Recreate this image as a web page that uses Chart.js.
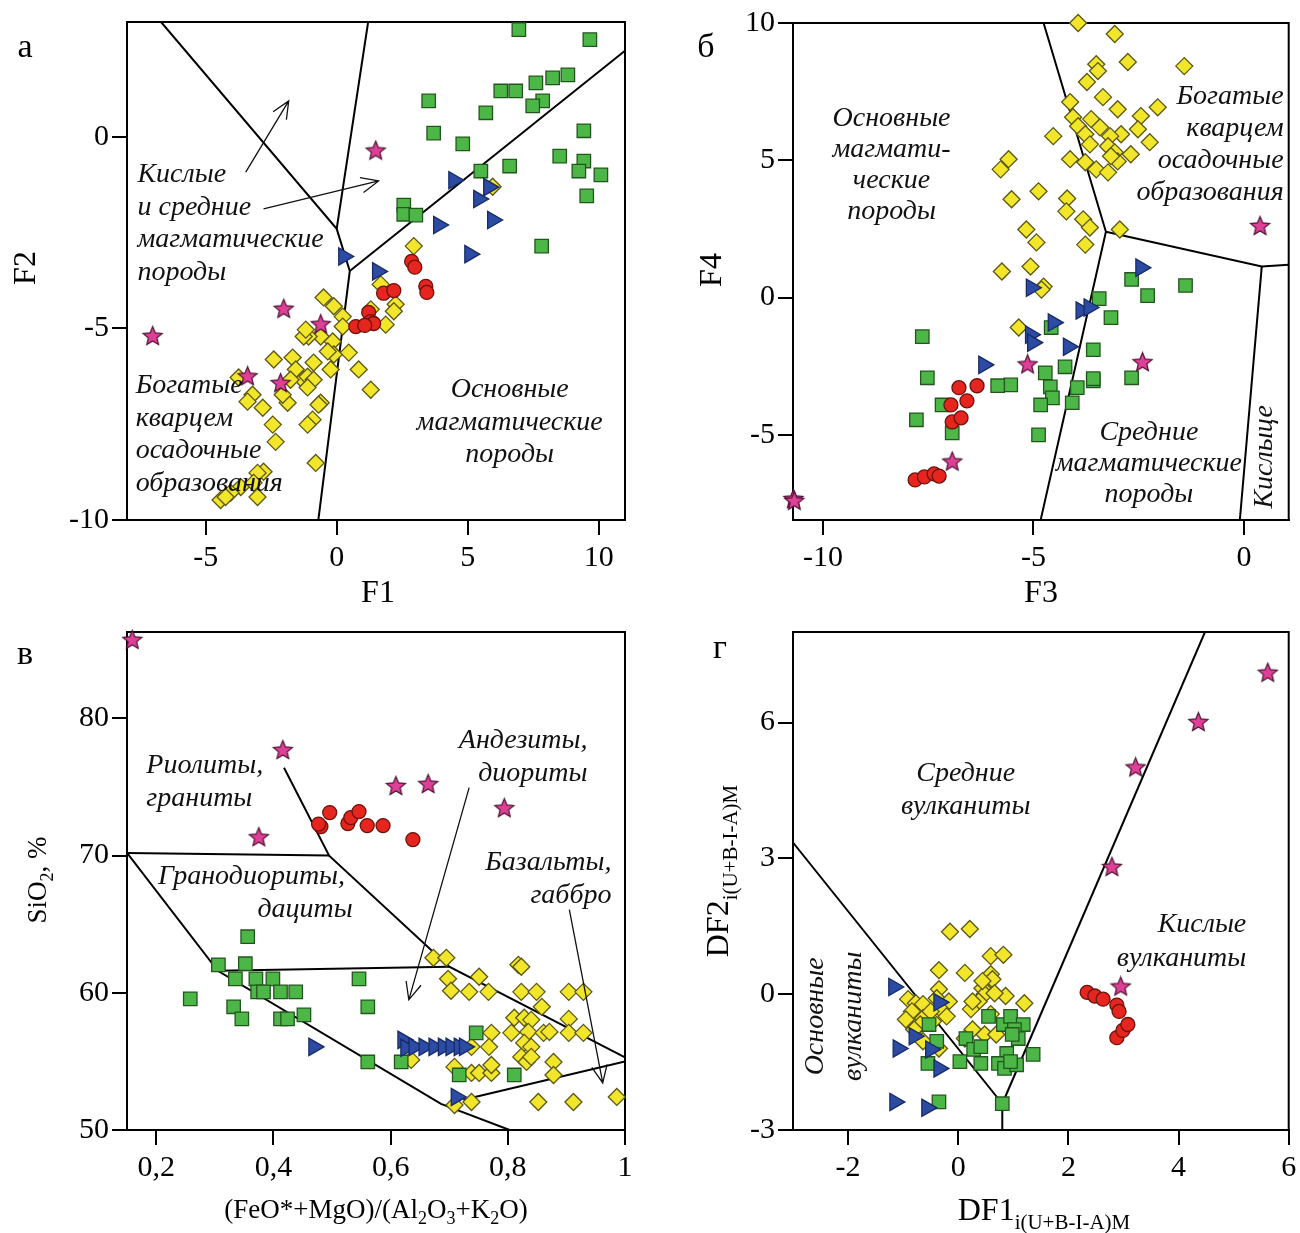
<!DOCTYPE html>
<html>
<head>
<meta charset="utf-8">
<script src="https://cdn.jsdelivr.net/npm/chart.js@4.4.0/dist/chart.umd.min.js"></script>
<style>
  body { margin: 0; background: #fff; }
  #wrap { position: relative; width: 1300px; height: 1233px; }
  #wrap canvas { position: absolute; left: 0; top: 0; }
</style>
</head>
<body>
<div id="wrap">
  <canvas id="pa" width="1300" height="1233"></canvas>
  <canvas id="pb" width="1300" height="1233"></canvas>
  <canvas id="pc" width="1300" height="1233"></canvas>
  <canvas id="pd" width="1300" height="1233"></canvas>
</div>
<script>
// panel а : F1 - F2
const aXTicks = [-5, 0, 5, 10];
const aYTicks = [-10, -5, 0];
const aYellow = [[2.94,-2.85],[1.68,-3.85],[-0.5,-4.19],[-0.11,-4.42],[0.23,-4.69],[0.23,-4.95],[-0.61,-5.21],[-0.15,-5.34],[-1.07,-5.21],[-1.26,-5.21],[0.46,-5.63],[-0.11,-5.68],[-0.88,-5.89],[-0.23,-6.07],[0.84,-6.07],[1.3,-6.6],[-0.61,-6.94],[-0.92,-7.38],[-1.11,-7.51],[-0.8,-8.51],[1.3,-4.5],[1.87,-4.9],[2.25,-4.37],[2.18,-4.55],[-0.34,-5.6],[-1.18,-5.03],[-2.4,-5.81],[-1.68,-5.76],[-1.56,-6.07],[-1.3,-6.34],[-1.11,-6.26],[-0.88,-6.34],[-1.11,-6.54],[-1.76,-6.34],[-0.69,-6.99],[-3.74,-6.28],[-3.21,-6.73],[-3.4,-6.91],[-2.82,-7.07],[-2.44,-7.51],[-2.33,-7.96],[-1.87,-6.94],[-2.06,-6.73],[-2.79,-8.74],[-3.02,-8.77],[-3.17,-9.03],[-3.02,-9.4],[-3.66,-9.14],[-4.05,-9.29],[-4.43,-9.48],[-4.24,-9.4],[5.95,-1.3]];
const aGreen = [[6.95,2.8],[9.66,2.54],[8.82,1.62],[8.24,1.54],[7.6,1.41],[6.83,1.2],[6.26,1.2],[7.86,0.94],[7.48,0.81],[5.69,0.63],[3.51,0.94],[3.7,0.1],[4.81,-0.18],[9.43,0.16],[8.51,-0.5],[9.43,-0.63],[9.24,-0.89],[10.08,-0.99],[9.54,-1.54],[6.6,-0.76],[5.5,-0.89],[2.56,-1.78],[2.56,-2.02],[3.02,-2.04],[7.82,-2.85]];
const aBlue = [[4.47,-1.13],[5.8,-1.31],[5.42,-1.62],[3.89,-2.3],[5.95,-2.17],[5.08,-3.06],[0.27,-3.12],[1.56,-3.51]];
const aRed = [[2.86,-3.25],[2.98,-3.4],[1.79,-4.08],[2.18,-4.01],[3.4,-3.9],[3.44,-4.06],[1.22,-4.58],[1.3,-4.82],[1.41,-4.87],[0.73,-4.95],[1.07,-4.92]];
const aStar = [[1.49,-0.37],[-7.02,-5.21],[-2.02,-4.5],[-3.4,-6.26],[-2.14,-6.44],[-0.61,-4.9]];
const aBounds = [
  [[-6.7,3],[0,-2.4],[0.5,-3.5],[-0.7,-10]],
  [[1.2,3],[0,-2.4]],
  [[0.5,-3.5],[11,2.25]]
];
const aArrows = [[-3.47,-0.92,-1.83,0.94],[-2.79,-1.88,1.6,-1.15]];
const aLabels = [
  { lines: ['Кислые', 'и средние', 'магматические', 'породы'], x: -7.6, y: -0.99, align: 'left' },
  { lines: ['Богатые', 'кварцем', 'осадочные', 'образования'], x: -7.67, y: -6.5, align: 'left' },
  { lines: ['Основные', 'магматические', 'породы'], x: 6.6, y: -6.6, align: 'center' }
];

// panel б : F3 - F4
const bXTicks = [-10, -5, 0];
const bYTicks = [-5, 0, 5, 10];
const bYellow = [[-3.94,10],[-3.07,9.6],[-3.51,8.5],[-3.47,8.25],[-2.76,8.58],[-1.42,8.43],[-3.73,7.85],[-3.35,7.3],[-4.13,7.12],[-3.0,6.86],[-2.45,6.61],[-2.05,6.93],[-4.06,6.57],[-3.63,6.5],[-3.94,6.24],[-3.42,6.2],[-2.92,5.95],[-2.52,6.13],[-4.53,5.88],[-3.77,5.95],[-3.18,5.88],[-2.24,5.66],[-3.66,5.58],[-3.23,5.51],[-3.07,5.29],[-2.69,5.22],[-4.13,5.04],[-3.77,4.93],[-3.51,4.67],[-3.23,4.56],[-3.0,4.96],[-3.16,5.15],[-5.59,5.04],[-5.78,4.67],[-4.88,3.87],[-5.52,3.58],[-4.2,3.61],[-4.22,3.14],[-3.82,2.85],[-3.66,2.55],[-2.95,2.48],[-3.77,1.93],[-5.17,2.48],[-4.93,2.01],[-5.07,1.13],[-5.75,0.95],[-4.76,0.4],[-4.81,0.29],[-5.35,-1.09]];
const bGreen = [[-1.39,0.44],[-2.29,0.07],[-2.67,0.66],[-3.44,-0.04],[-3.16,-0.73],[-4.58,-1.09],[-3.58,-1.9],[-4.25,-2.52],[-4.72,-2.74],[-3.58,-3.03],[-3.58,-2.95],[-2.67,-2.92],[-4.6,-3.25],[-4.55,-3.65],[-3.96,-3.28],[-5.54,-3.18],[-5.85,-3.21],[-4.83,-3.91],[-4.08,-3.83],[-4.88,-5.0],[-7.64,-1.42],[-7.52,-2.92],[-7.17,-3.91],[-7.78,-4.45],[-6.93,-4.93]];
const bBlue = [[-2.45,1.09],[-5.05,0.36],[-3.87,-0.47],[-3.68,-0.36],[-4.53,-0.91],[-5.07,-1.35],[-5.02,-1.64],[-4.17,-1.79],[-6.18,-2.45]];
const bRed = [[-6.77,-3.28],[-6.34,-3.21],[-6.96,-3.91],[-6.58,-3.76],[-6.93,-4.53],[-6.72,-4.38],[-7.81,-6.64],[-7.59,-6.53],[-7.36,-6.42],[-7.24,-6.5]];
const bStar = [[-6.93,-5.99],[-10.7,-7.35],[-10.68,-7.42],[-5.14,-2.45],[-2.41,-2.37],[0.38,2.59]];
const bBounds = [
  [[-4.76,10],[-3.28,2.4],[-4.83,-8.1]],
  [[-3.28,2.4],[0.42,1.13],[1.06,1.2]],
  [[0.42,1.13],[-0.1,-8.1]]
];
const bLabels = [
  { lines: ['Основные', 'магмати-', 'ческие', 'породы'], x: -8.37, y: 6.53, align: 'center', lh: 31 },
  { lines: ['Богатые', 'кварцем', 'осадочные', 'образования'], x: 0.94, y: 7.3, align: 'right', lh: 32 },
  { lines: ['Средние', 'магматические', 'породы'], x: -2.26, y: -4.93, align: 'center', lh: 31 },
  { lines: ['Кислыце'], x: 0.5, y: -5.8, align: 'center', rot: -90, mid: true }
];

// panel в : (FeO*+MgO)/(Al2O3+K2O) - SiO2
const cXTicks = [0.2, 0.4, 0.6, 0.8, 1];
const cYTicks = [50, 60, 70, 80];
const cYellow = [[0.673,62.55],[0.695,62.55],[0.818,62.04],[0.823,61.9],[0.698,61.02],[0.751,61.17],[0.703,60.15],[0.734,60.07],[0.767,60.07],[0.823,60.07],[0.849,60.07],[0.904,60.07],[0.929,60.07],[0.858,58.98],[0.811,58.18],[0.828,58.18],[0.84,58.03],[0.904,58.1],[0.772,57.08],[0.806,57.08],[0.835,57.15],[0.861,57.08],[0.871,57.15],[0.904,57.08],[0.929,57.08],[0.828,56.35],[0.84,56.06],[0.738,56.06],[0.768,56.06],[0.823,55.33],[0.832,54.96],[0.84,55.33],[0.878,54.96],[0.709,54.6],[0.738,54.16],[0.751,54.16],[0.772,54.16],[0.772,54.74],[0.878,54.01],[0.852,52.04],[0.912,52.04],[0.986,52.41],[0.738,52.04],[0.709,51.82],[0.635,55.11]];
const cGreen = [[0.356,64.09],[0.306,62.04],[0.352,62.12],[0.258,59.56],[0.335,61.02],[0.37,61.02],[0.399,61.02],[0.332,58.98],[0.373,60.07],[0.383,60.07],[0.412,60.07],[0.438,60.07],[0.346,58.1],[0.412,58.1],[0.424,58.1],[0.452,58.39],[0.546,61.02],[0.561,58.98],[0.561,54.96],[0.618,54.96],[0.746,57.08],[0.717,54.01],[0.811,54.01]];
const cBlue = [[0.469,56.06],[0.621,56.57],[0.626,55.99],[0.64,56.06],[0.657,56.06],[0.674,56.06],[0.69,56.06],[0.703,56.06],[0.717,56.06],[0.726,56.06],[0.712,52.41]];
const cRed = [[0.481,72.12],[0.477,72.3],[0.496,73.14],[0.527,72.34],[0.532,72.77],[0.546,73.21],[0.56,72.19],[0.587,72.19],[0.638,71.17]];
const cStar = [[0.159,85.69],[0.416,77.66],[0.375,71.31],[0.609,75.04],[0.664,75.18],[0.794,73.43]];
const cBounds = [
  [[0.15,70.2],[0.495,70.0]],
  [[0.418,76.4],[0.495,70.0],[0.7,61.9],[1.0,55.3]],
  [[0.305,61.6],[0.7,61.9]],
  [[0.15,70.2],[0.305,61.6],[0.686,51.9],[0.803,50]],
  [[0.724,52.2],[1.0,55.0]]
];
const cArrows = [[0.734,74.96,0.631,59.49],[0.905,66.06,0.962,53.43]];
const cLabels = [
  { lines: ['Риолиты,', 'граниты'], x: 0.183, y: 76.56, align: 'left', lh: 33 },
  { lines: ['Гранодиориты,'], x: 0.203, y: 68.44, align: 'left' },
  { lines: ['дациты'], x: 0.454, y: 66.03, align: 'center' },
  { lines: ['Андезиты,', 'диориты'], x: 0.936, y: 78.35, align: 'right', lh: 33 },
  { lines: ['Базальты,', 'габбро'], x: 0.977, y: 69.46, align: 'right', lh: 33 }
];

// panel г : DF1 - DF2
const dXTicks = [-2, 0, 2, 4, 6];
const dYTicks = [-3, 0, 3, 6];
const dYellow = [[-0.15,1.38],[0.21,1.44],[0.59,0.84],[0.82,0.87],[-0.35,0.53],[0.12,0.47],[0.59,0.44],[0.62,0.33],[0.44,0.13],[0.48,0.0],[0.86,-0.04],[1.2,-0.2],[0.37,-0.16],[0.23,-0.33],[0.26,-0.16],[0.59,-0.44],[0.26,-0.78],[0.48,-0.89],[0.69,-0.89],[0.12,-0.98],[-0.35,0.11],[-0.39,-0.09],[-0.17,-0.16],[-0.32,-0.33],[-0.21,-0.49],[-0.46,-0.6],[-0.91,-0.11],[-0.77,-0.2],[-0.64,-0.22],[-0.84,-0.38],[-0.95,-0.56],[-0.64,-0.53],[-0.5,-0.38],[-0.69,-0.67],[-0.8,-0.78],[-0.35,-1.2],[-0.64,-1.04],[0.44,0.29],[0.66,0.02]];
const dGreen = [[-0.53,-0.67],[-0.39,-1.04],[-0.55,-1.53],[-0.35,-2.38],[0.14,-0.98],[0.28,-1.22],[0.41,-1.16],[0.03,-1.49],[0.41,-1.53],[0.55,-0.49],[0.82,-0.67],[0.95,-0.49],[1.18,-0.67],[1.02,-0.78],[1.09,-0.98],[0.98,-0.89],[0.88,-1.31],[1.36,-1.33],[0.73,-1.53],[0.84,-1.64],[1.06,-1.56],[0.95,-1.49],[0.8,-2.42]];
const dBlue = [[-1.17,0.16],[-0.35,-0.18],[-0.8,-0.93],[-1.09,-1.2],[-0.5,-1.22],[-0.35,-1.64],[-1.15,-2.38],[-0.57,-2.51]];
const dRed = [[2.34,0.04],[2.48,-0.04],[2.63,-0.11],[2.88,-0.24],[2.92,-0.38],[2.88,-0.96],[2.99,-0.8],[3.08,-0.67]];
const dStar = [[5.62,7.09],[4.36,6.0],[3.22,5.0],[2.79,2.8],[2.95,0.16]];
const dBounds = [
  [[-3,3.35],[0.8,-2.42],[0.8,-3]],
  [[0.8,-2.42],[4.48,8]]
];
const dLabels = [
  { lines: ['Средние', 'вулканиты'], x: 0.135, y: 4.87, align: 'center', lh: 33 },
  { lines: ['Кислые', 'вулканиты'], x: 5.23, y: 1.53, align: 'right', lh: 34 },
  { lines: ['Основные', 'вулканиты'], x: -2.25, y: -0.49, align: 'center', rot: -90, mid: true, lh: 38 }
];

const SERIF = '"Liberation Serif", "Times New Roman", serif';
Chart.defaults.font.family = SERIF;

function starImage(size) {
  const c = document.createElement('canvas');
  c.width = c.height = size;
  const g = c.getContext('2d');
  const R = size / 2 - 1.5, r = R * 0.45, m = size / 2;
  g.beginPath();
  for (let i = 0; i < 10; i++) {
    const a = -Math.PI / 2 + i * Math.PI / 5;
    const rr = i % 2 ? r : R;
    g.lineTo(m + rr * Math.cos(a), m + rr * Math.sin(a));
  }
  g.closePath();
  g.fillStyle = '#de3f97';
  g.fill();
  g.lineWidth = 1.2;
  g.strokeStyle = '#4a1030';
  g.stroke();
  return c;
}
const STAR = starImage(23);

const MARK = {
  yellow: { pointStyle: 'rectRot', pointRadius: 8.5, pointBackgroundColor: '#f2e62a', pointBorderColor: '#5c5714', order: 5 },
  green:  { pointStyle: 'rect', pointRadius: 9.5, pointBackgroundColor: '#4cb747', pointBorderColor: '#23561e', order: 4 },
  blue:   { pointStyle: 'triangle', pointRadius: 10, pointRotation: 90, pointBackgroundColor: '#2c4ba3', pointBorderColor: '#172a66', order: 3 },
  red:    { pointStyle: 'circle', pointRadius: 7, pointBackgroundColor: '#e5251e', pointBorderColor: '#6b120c', order: 2 },
  star:   { pointStyle: STAR, pointRadius: 10, pointBackgroundColor: '#de3f97', pointBorderColor: '#4a1030', order: 1 }
};

function pts(arr) { return arr.map(p => ({ x: p[0], y: p[1] })); }

function markSet(arr, kind) {
  return Object.assign({ data: pts(arr), showLine: false, pointBorderWidth: 1.3, clip: false }, MARK[kind]);
}

function lineSet(arr) {
  return { data: pts(arr), showLine: true, pointRadius: 0, borderColor: '#000', borderWidth: 2, fill: false, tension: 0, order: 10 };
}

function axis(min, max, ticks, isX, fmt) {
  return {
    type: 'linear', min: min, max: max,
    afterBuildTicks: s => { s.ticks = ticks.map(v => ({ value: v })); },
    afterFit: s => {
      if (isX) s.height = 60; else s.width = 70;
      s.paddingTop = s.paddingBottom = s.paddingLeft = s.paddingRight = 0;
    },
    ticks: { color: '#000', font: { size: 30 }, padding: isX ? 5 : 3, autoSkip: false, maxRotation: 0,
             callback: fmt || (v => String(v)) },
    grid: { drawOnChartArea: false, drawTicks: true, tickLength: 15, color: '#000', lineWidth: 2 },
    border: { display: true, color: '#000', width: 2 }
  };
}

function richText(ctx, parts, x, y, rot, align) {
  ctx.save();
  ctx.translate(x, y);
  ctx.rotate((rot || 0) * Math.PI / 180);
  let total = 0;
  parts.forEach(p => { ctx.font = p.s + 'px ' + SERIF; p.w = ctx.measureText(p.t).width; total += p.w; });
  let cx = align === 'center' ? -total / 2 : align === 'right' ? -total : 0;
  ctx.textAlign = 'left';
  ctx.textBaseline = 'alphabetic';
  ctx.fillStyle = '#000';
  parts.forEach(p => { ctx.font = p.s + 'px ' + SERIF; ctx.fillText(p.t, cx, p.dy || 0); cx += p.w; });
  ctx.restore();
}

function arrow(ctx, x1, y1, x2, y2) {
  const ang = Math.atan2(y2 - y1, x2 - x1), len = 19, spread = 0.42;
  ctx.beginPath();
  ctx.moveTo(x1, y1); ctx.lineTo(x2, y2);
  ctx.moveTo(x2 - len * Math.cos(ang - spread), y2 - len * Math.sin(ang - spread));
  ctx.lineTo(x2, y2);
  ctx.lineTo(x2 - len * Math.cos(ang + spread), y2 - len * Math.sin(ang + spread));
  ctx.stroke();
}

function panelPlugin(p) {
  return {
    id: 'panelDeco',
    beforeDatasetsDraw(chart) {
      const { ctx, chartArea: a } = chart;
      ctx.save();
      ctx.strokeStyle = '#000';
      ctx.lineWidth = 2;
      ctx.strokeRect(a.left, a.top, a.right - a.left, a.bottom - a.top);
      ctx.restore();
    },
    afterDatasetsDraw(chart) {
      const ctx = chart.ctx, xs = chart.scales.x, ys = chart.scales.y;
      ctx.save();
      ctx.strokeStyle = '#111';
      ctx.lineWidth = 1.3;
      (p.arrows || []).forEach(r => arrow(ctx, xs.getPixelForValue(r[0]), ys.getPixelForValue(r[1]),
                                             xs.getPixelForValue(r[2]), ys.getPixelForValue(r[3])));
      ctx.fillStyle = '#111';
      ctx.font = 'italic 28px ' + SERIF;
      ctx.textBaseline = 'middle';
      p.labels.forEach(L => {
        const lh = L.lh || 32.5;
        ctx.save();
        ctx.translate(xs.getPixelForValue(L.x), ys.getPixelForValue(L.y));
        ctx.rotate((L.rot || 0) * Math.PI / 180);
        ctx.textAlign = L.align;
        const start = L.mid ? -(L.lines.length - 1) * lh / 2 : 0;
        L.lines.forEach((t, i) => ctx.fillText(t, 0, start + i * lh));
        ctx.restore();
      });
      ctx.restore();
    },
    afterDraw(chart) {
      const ctx = chart.ctx;
      richText(ctx, p.xTitle.parts, p.xTitle.x, p.xTitle.y, 0, 'center');
      richText(ctx, p.yTitle.parts, p.yTitle.x, p.yTitle.y, -90, 'center');
      richText(ctx, [{ t: p.letter.t, s: 34 }], p.letter.x, p.letter.y, 0, 'center');
    }
  };
}

function makePanel(id, p) {
  const a = p.area;
  const datasets = [
    markSet(p.star, 'star'), markSet(p.red, 'red'), markSet(p.blue, 'blue'),
    markSet(p.green, 'green'), markSet(p.yellow, 'yellow')
  ].concat(p.bounds.map(lineSet));
  new Chart(document.getElementById(id), {
    type: 'scatter',
    data: { datasets: datasets },
    options: {
      responsive: false,
      animation: false,
      devicePixelRatio: 1,
      layout: { padding: { left: a.l - 70, right: 1300 - a.r, top: a.t, bottom: 1233 - a.b - 60 } },
      plugins: { legend: { display: false }, tooltip: { enabled: false } },
      scales: {
        x: axis(p.x[0], p.x[1], p.xTicks, true, p.fmt),
        y: axis(p.y[0], p.y[1], p.yTicks, false)
      }
    },
    plugins: [panelPlugin(p)]
  });
}

makePanel('pa', {
  area: { l: 127, t: 22, r: 625, b: 520 }, x: [-8, 11], y: [-10, 3],
  xTicks: aXTicks, yTicks: aYTicks,
  yellow: aYellow, green: aGreen, blue: aBlue, red: aRed, star: aStar,
  bounds: aBounds, arrows: aArrows, labels: aLabels,
  xTitle: { parts: [{ t: 'F1', s: 32 }], x: 378, y: 602 },
  yTitle: { parts: [{ t: 'F2', s: 32 }], x: 35, y: 268 },
  letter: { t: 'а', x: 25, y: 57 }
});

makePanel('pb', {
  area: { l: 793, t: 23, r: 1292, b: 520 }, x: [-10.71, 1.06], y: [-8.1, 10],
  xTicks: bXTicks, yTicks: bYTicks,
  yellow: bYellow, green: bGreen, blue: bBlue, red: bRed, star: bStar,
  bounds: bBounds, labels: bLabels,
  xTitle: { parts: [{ t: 'F3', s: 32 }], x: 1041, y: 602 },
  yTitle: { parts: [{ t: 'F4', s: 32 }], x: 721, y: 270 },
  letter: { t: 'б', x: 706, y: 57 }
});

makePanel('pc', {
  area: { l: 127, t: 632, r: 625, b: 1130 }, x: [0.15, 1], y: [50, 86.3],
  xTicks: cXTicks, yTicks: cYTicks, fmt: v => String(v).replace('.', ','),
  yellow: cYellow, green: cGreen, blue: cBlue, red: cRed, star: cStar,
  bounds: cBounds, arrows: cArrows, labels: cLabels,
  xTitle: { parts: [{ t: '(FeO*+MgO)/(Al', s: 27 }, { t: '2', s: 18, dy: 6 }, { t: 'O', s: 27 }, { t: '3', s: 18, dy: 6 },
                    { t: '+K', s: 27 }, { t: '2', s: 18, dy: 6 }, { t: 'O)', s: 27 }], x: 376, y: 1218 },
  yTitle: { parts: [{ t: 'SiO', s: 27 }, { t: '2', s: 18, dy: 7 }, { t: ', %', s: 27 }], x: 46, y: 880 },
  letter: { t: 'в', x: 25, y: 664 }
});

makePanel('pd', {
  area: { l: 793, t: 632, r: 1293, b: 1130 }, x: [-3, 6], y: [-3, 8],
  xTicks: dXTicks, yTicks: dYTicks,
  yellow: dYellow, green: dGreen, blue: dBlue, red: dRed, star: dStar,
  bounds: dBounds, labels: dLabels,
  xTitle: { parts: [{ t: 'DF1', s: 32 }, { t: 'i(U+B-I-A)M', s: 21, dy: 9 }], x: 1044, y: 1220 },
  yTitle: { parts: [{ t: 'DF2', s: 32 }, { t: 'i(U+B-I-A)M', s: 21, dy: 9 }], x: 728, y: 871 },
  letter: { t: 'г', x: 720, y: 658 }
});
</script>
</body>
</html>
